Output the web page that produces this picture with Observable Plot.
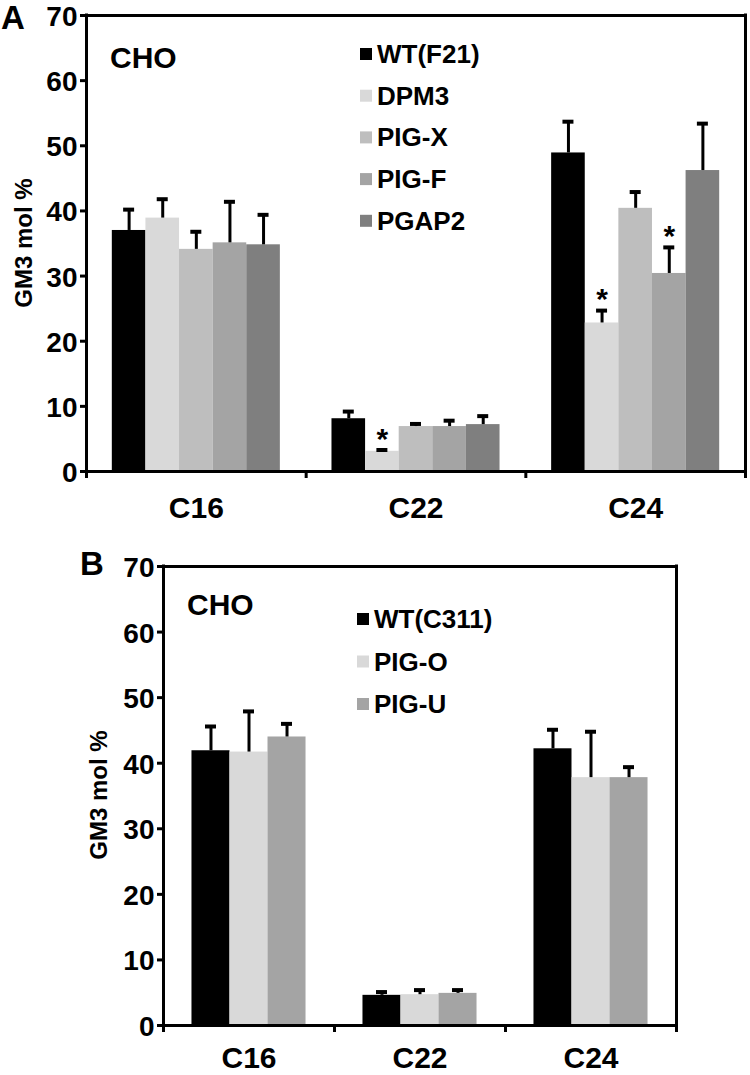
<!DOCTYPE html>
<html>
<head>
<meta charset="utf-8">
<script src="https://cdn.jsdelivr.net/npm/d3@7"></script>
<script src="https://cdn.jsdelivr.net/npm/@observablehq/plot@0.6"></script>
<style>
  html, body { margin: 0; padding: 0; background: #fff; }
  #wrap { width: 750px; height: 1075px; position: relative; overflow: hidden; }
  #wrap svg { display: block; }
</style>
</head>
<body>
<div id="wrap"></div>
<script>
// ---------- data ----------
const categories = ["C16", "C22", "C24"];
const yTicks = [0, 10, 20, 30, 40, 50, 60, 70];

// Panel A
const seriesA = ["WT(F21)", "DPM3", "PIG-X", "PIG-F", "PGAP2"];
const colorsA = ["#000000", "#d9d9d9", "#bebebe", "#a4a4a4", "#7f7f7f"];
const meanA_WT = [37.0, 8.1, 48.9];
const meanA_DPM3 = [38.9, 3.1, 22.8];
const meanA_PIGX = [34.1, 6.9, 40.4];
const meanA_PIGF = [35.1, 6.9, 30.4];
const meanA_PGAP2 = [34.8, 7.2, 46.2];
const errA_WT = [3.2, 1.1, 4.8];
const errA_DPM3 = [2.9, 0.2, 1.9];
const errA_PIGX = [2.7, 0.4, 2.5];
const errA_PIGF = [6.3, 0.9, 4.0];
const errA_PGAP2 = [4.6, 1.3, 7.2];
const starsA = [["DPM3", "C22"], ["DPM3", "C24"], ["PIG-F", "C24"]];

// Panel B
const seriesB = ["WT(C311)", "PIG-O", "PIG-U"];
const colorsB = ["#000000", "#d9d9d9", "#a4a4a4"];
const meanB_WT = [41.9, 4.6, 42.2];
const meanB_PIGO = [41.7, 4.7, 37.8];
const meanB_PIGU = [44.0, 4.9, 37.8];
const errB_WT = [3.7, 0.5, 2.9];
const errB_PIGO = [6.2, 0.7, 7.0];
const errB_PIGU = [2.0, 0.5, 1.6];
const starsB = [];

// ---------- build tables ----------
function buildRows(series, means, errs, groupFrac) {
  const n = series.length;
  const w = groupFrac / n;
  const off = (1 - groupFrac) / 2;
  const rows = [];
  series.forEach((s, si) => {
    categories.forEach((c, ci) => {
      const x1 = ci + off + si * w;
      rows.push({series: s, cat: c, x1, x2: x1 + w, xc: x1 + w / 2,
                 value: means[si][ci], top: means[si][ci] + errs[si][ci]});
    });
  });
  return rows;
}
const rowsA = buildRows(seriesA,
  [meanA_WT, meanA_DPM3, meanA_PIGX, meanA_PIGF, meanA_PGAP2],
  [errA_WT, errA_DPM3, errA_PIGX, errA_PIGF, errA_PGAP2], 0.765);
const rowsB = buildRows(seriesB,
  [meanB_WT, meanB_PIGO, meanB_PIGU],
  [errB_WT, errB_PIGO, errB_PIGU], 0.667);
const starRowsA = rowsA.filter(r => starsA.some(([s, c]) => s === r.series && c === r.cat));
const starRowsB = rowsB.filter(r => starsB.some(([s, c]) => s === r.series && c === r.cat));

const FONT = "'Liberation Sans', Arial, Helvetica, sans-serif";

function panel(opts) {
  const {rows, stars, series, colors, width, height, mt, mb, ml, mr, labelPad} = opts;
  return Plot.plot({
    width, height,
    marginTop: mt, marginBottom: mb, marginLeft: ml, marginRight: mr,
    x: {domain: [0, categories.length], axis: null},
    y: {domain: [0, 70], axis: null},
    color: {domain: series, range: colors},
    style: {fontFamily: FONT, fontWeight: "bold", color: "#000", background: "#fff", overflow: "visible"},
    marks: [
      Plot.rectY(rows, {x1: "x1", x2: "x2", y: "value", fill: "series"}),
      Plot.ruleX(rows, {x: "xc", y1: "value", y2: "top", stroke: "#000", strokeWidth: 3}),
      Plot.ruleY(rows, {x1: "xc", x2: "xc", y: "top", insetLeft: -5.5, insetRight: -5.5, stroke: "#000", strokeWidth: 4}),
      Plot.text(stars, {x: "xc", y: "top", text: () => "*", dy: -11, fontSize: 30, fontWeight: "bold", fill: "#000"}),
      Plot.ruleX([0, categories.length], {stroke: "#000", strokeWidth: 3, strokeLinecap: "square"}),
      Plot.ruleY([0, 70], {stroke: "#000", strokeWidth: 3, strokeLinecap: "square"}),
      Plot.axisY(yTicks, {tickSize: 6, tickFormat: () => "", strokeWidth: 3, stroke: "#000"}),
      Plot.axisY(yTicks, {tickSize: 0, tickPadding: 9, fontSize: 28, dy: 1.5, fill: "#000"}),
      Plot.axisX(d3.range(categories.length + 1), {tickSize: 7, tickFormat: () => "", strokeWidth: 3, stroke: "#000"}),
      Plot.axisX(categories.map((c, i) => i + 0.5), {tickSize: 0, tickPadding: labelPad,
        tickFormat: d => categories[Math.floor(d)], fontSize: 30, fill: "#000"})
    ]
  });
}

function addText(svg, txt, x, y, size, opts = {}) {
  const t = svg.append("text").attr("x", x).attr("y", y)
    .attr("font-family", FONT).attr("font-weight", "bold")
    .attr("font-size", size).attr("fill", "#000").attr("text-anchor", "start").text(txt);
  if (opts.rotate) t.attr("transform", `rotate(-90 ${x} ${y})`).attr("text-anchor", "middle").attr("dominant-baseline", "central");
  return t;
}

function addLegend(svg, series, colors, x, y0, step) {
  series.forEach((s, i) => {
    const cy = y0 + i * step;
    svg.append("rect").attr("x", x).attr("y", cy - 6).attr("width", 12).attr("height", 12).attr("fill", colors[i]);
    addText(svg, s, x + 17, cy + 9, 26);
  });
}

const wrap = document.getElementById("wrap");

// Panel A
const plotA = panel({rows: rowsA, stars: starRowsA, series: seriesA, colors: colorsA,
  width: 750, height: 530, mt: 15, mb: 59, ml: 86, mr: 5, labelPad: 25});
wrap.appendChild(plotA);
const svgA = d3.select(plotA);
addText(svgA, "A", 1, 29, 33);
addText(svgA, "CHO", 110, 68, 30);
addText(svgA, "GM3 mol %", 23, 243, 24, {rotate: true});
addLegend(svgA, seriesA, colorsA, 360, 54, 41.7);

// Panel B
const plotB = panel({rows: rowsB, stars: starRowsB, series: seriesB, colors: colorsB,
  width: 750, height: 545, mt: 36, mb: 50, ml: 163, mr: 74, labelPad: 21});
wrap.appendChild(plotB);
const svgB = d3.select(plotB);
addText(svgB, "B", 80, 45, 33);
addText(svgB, "CHO", 187, 85, 30);
addText(svgB, "GM3 mol %", 98, 265, 24, {rotate: true});
addLegend(svgB, seriesB, colorsB, 357, 89, 42.5);
</script>
</body>
</html>
